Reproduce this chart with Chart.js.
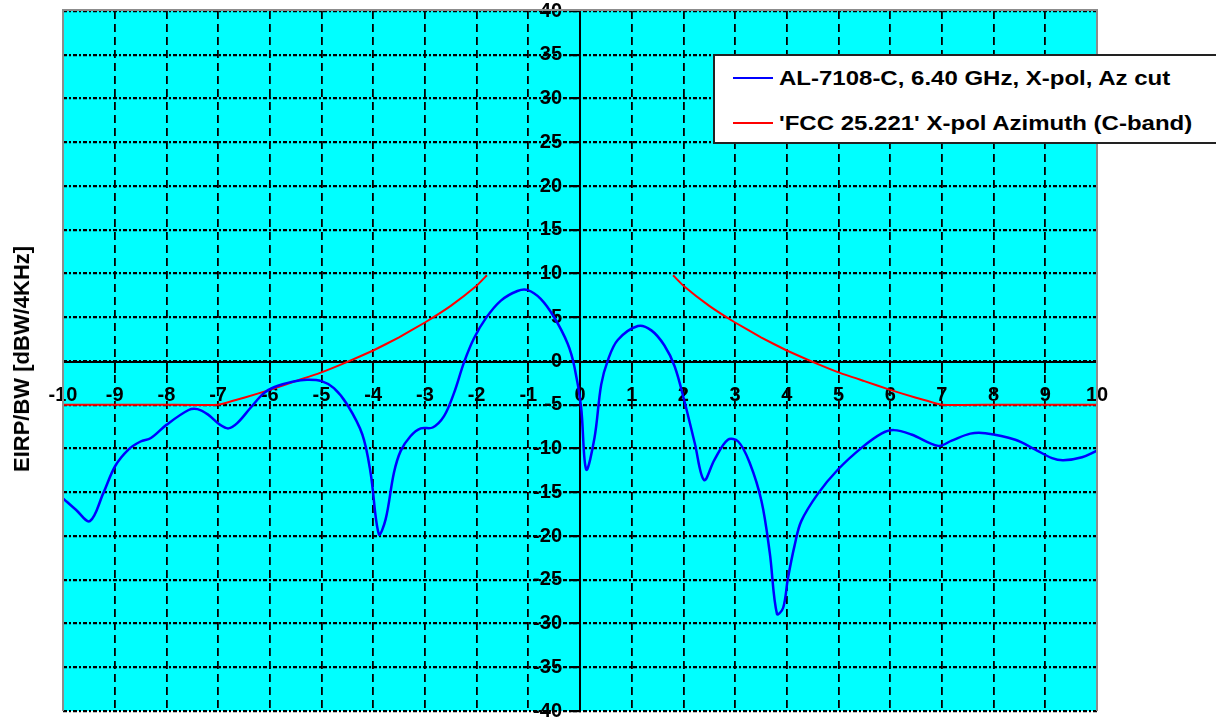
<!DOCTYPE html>
<html>
<head>
<meta charset="utf-8">
<script src="https://cdn.jsdelivr.net/npm/chart.js@4.4.0/dist/chart.umd.min.js"></script>
<style>
  html, body { margin: 0; padding: 0; background: #fff; }
  #wrap { position: relative; width: 1216px; height: 723px; overflow: hidden; }
  #c { position: absolute; left: 0; top: 0; }
  #ytitle {
    position: absolute; left: 22px; top: 359px;
    transform: translate(-50%, -50%) rotate(-90deg);
    white-space: nowrap;
    font: bold 22px "Liberation Sans", Arial, sans-serif; color: #000;
  }
  #legend {
    position: absolute; left: 713px; top: 54px; width: 510px; height: 90px;
    background: #fff; border: 2px solid #222; box-sizing: border-box;
  }
  .item { position: absolute; left: 18px; height: 24px; display: flex; align-items: center; }
  .swatch { width: 40px; height: 2.5px; margin-right: 6px; }
  .lbl { font: bold 20px "Liberation Sans", Arial, sans-serif; color: #000; white-space: nowrap;
         transform-origin: left center; transform: scaleX(1.2); }
</style>
</head>
<body>
<div id="wrap">
  <canvas id="c" width="1216" height="723"></canvas>
  <div id="ytitle">EIRP/BW [dBW/4KHz]</div>
  <div id="legend"></div>
</div>
<script>
// ---- data ----
const seriesNames = ["AL-7108-C, 6.40 GHz, X-pol, Az cut", "'FCC 25.221' X-pol Azimuth (C-band)"];
const seriesColors = ["#0000FF", "#FF0000"];

const measAngle = [-10.0, -9.75, -9.48, -9.22, -8.99, -8.73, -8.5, -8.3, -8.0, -7.57, -7.4, -7.2, -6.96, -6.8, -6.63, -6.38, -6.12, -5.92, -5.54, -5.28, -5.0, -4.76, -4.5, -4.21, -4.05, -3.89, -3.76, -3.6, -3.47, -3.28, -3.08, -2.85, -2.63, -2.44, -2.24, -2.05, -1.82, -1.53, -1.21, -1.01, -0.76, -0.5, -0.24, -0.11, 0.02, 0.12, 0.28, 0.41, 0.54, 0.73, 1.12, 1.38, 1.63, 1.83, 2.02, 2.22, 2.4, 2.6, 2.86, 3.06, 3.28, 3.51, 3.67, 3.81, 3.93, 4.02, 4.15, 4.28, 4.61, 4.99, 5.45, 5.83, 6.07, 6.41, 6.93, 7.19, 7.55, 7.84, 8.42, 8.8, 9.13, 9.35, 9.71, 10.0];
const measEirp  = [-15.7, -17.0, -18.3, -15.1, -12.0, -10.1, -9.2, -8.8, -7.3, -5.6, -5.5, -6.1, -7.3, -7.7, -7.1, -5.4, -3.7, -3.0, -2.35, -2.15, -2.3, -3.1, -5.0, -8.4, -12.8, -19.8, -18.1, -12.8, -10.3, -8.6, -7.7, -7.6, -6.3, -3.7, -0.1, 2.6, 4.9, 6.9, 8.0, 8.1, 7.1, 5.0, 2.0, -0.6, -5.2, -12.4, -8.8, -2.7, 0.1, 2.4, 4.0, 3.5, 1.8, -0.6, -4.6, -9.4, -13.6, -11.3, -9.0, -9.2, -11.6, -16.0, -21.9, -28.9, -28.2, -24.9, -21.1, -18.3, -15.1, -12.4, -9.9, -8.3, -7.9, -8.4, -9.7, -9.1, -8.3, -8.25, -9.0, -10.1, -11.1, -11.35, -11.0, -10.25];

const maskAngle = [-10, -9, -8, -7, -6.5, -6, -5.5, -5, -4.5, -4, -3.5, -3, -2.5, -2, -1.8, 0, 1.8, 2, 2.5, 3, 3.5, 4, 4.5, 5, 5.5, 6, 6.5, 7, 8, 9, 10];
const maskEirp  = [-5, -5, -5, -5, -4.2, -3.3, -2.3, -1.3, -0.1, 1.2, 2.7, 4.4, 6.3, 8.6, 9.8, null, 9.8, 8.6, 6.3, 4.4, 2.7, 1.2, -0.1, -1.3, -2.3, -3.3, -4.2, -5, -5, -5, -5];

const xMin = -10, xMax = 10, xStep = 1;
const yMin = -40, yMax = 40, yStep = 5;

// ---- build chart ----
const toPts = (xs, ys) => xs.map((x, i) => ({ x: x, y: ys[i] }));
const tickFont = { family: "'Liberation Sans', Arial, sans-serif", size: 20, weight: 'bold' };

const areaPlugin = {
  id: 'area',
  beforeDraw(chart) {
    const { ctx, chartArea: a } = chart;
    ctx.save();
    ctx.fillStyle = '#00FFFF';
    ctx.fillRect(a.left, a.top, a.right - a.left, a.bottom - a.top);
    ctx.restore();
  },
  afterDraw(chart) {
    const { ctx, chartArea: a } = chart;
    ctx.save();
    ctx.strokeStyle = '#8c8c8c';
    ctx.lineWidth = 2;
    ctx.beginPath();
    ctx.moveTo(a.left, a.bottom);
    ctx.lineTo(a.left, a.top - 1);
    ctx.lineTo(a.right, a.top - 1);
    ctx.lineTo(a.right, a.bottom);
    ctx.stroke();
    ctx.restore();
  }
};

const chart = new Chart(document.getElementById('c'), {
  type: 'line',
  data: {
    datasets: [
      { label: seriesNames[0], data: toPts(measAngle, measEirp), borderColor: seriesColors[0],
        borderWidth: 2.5, pointRadius: 0, tension: 0.35, fill: false },
      { label: seriesNames[1], data: toPts(maskAngle, maskEirp), borderColor: seriesColors[1],
        borderWidth: 2, pointRadius: 0, tension: 0.1, spanGaps: false, fill: false }
    ]
  },
  options: {
    responsive: false,
    animation: false,
    layout: { padding: { left: 63, right: 119, top: 11, bottom: 12 } },
    plugins: { legend: { display: false }, tooltip: { enabled: false } },
    scales: {
      x: {
        type: 'linear', position: 'center', min: xMin, max: xMax,
        afterFit(s) { s.height = 0; s.paddingLeft = 0; s.paddingRight = 0; s.paddingTop = 0; s.paddingBottom = 0; },
        ticks: { stepSize: xStep, autoSkip: false, maxRotation: 0, font: tickFont, color: '#000', padding: 12 },
        grid: {
          color: (c) => (c.tick && (c.tick.value === xMin || c.tick.value === xMax)) ? 'rgba(0,0,0,0)' : '#000',
          lineWidth: 1.8, tickLength: 10, drawTicks: true
        },
        border: { display: true, color: '#000', width: 2, dash: [8, 5] }
      },
      y: {
        type: 'linear', position: 'center', min: yMin, max: yMax,
        afterFit(s) { s.width = 0; s.paddingLeft = 0; s.paddingRight = 0; s.paddingTop = 0; s.paddingBottom = 0; },
        ticks: { stepSize: yStep, autoSkip: false, font: tickFont, color: '#000', padding: 8 },
        grid: { color: '#000', lineWidth: 2.2, tickLength: 10, drawTicks: true },
        border: { display: true, color: '#000', width: 2, dash: [4, 2, 2, 2] }
      }
    }
  },
  plugins: [areaPlugin]
});

// ---- legend ----
const leg = document.getElementById('legend');
seriesNames.forEach((name, i) => {
  const it = document.createElement('div');
  it.className = 'item';
  it.style.top = (i === 0 ? 10 : 55) + 'px';
  const sw = document.createElement('div');
  sw.className = 'swatch';
  sw.style.background = seriesColors[i];
  const lb = document.createElement('span');
  lb.className = 'lbl';
  lb.textContent = name;
  it.appendChild(sw); it.appendChild(lb);
  leg.appendChild(it);
});
</script>
</body>
</html>
